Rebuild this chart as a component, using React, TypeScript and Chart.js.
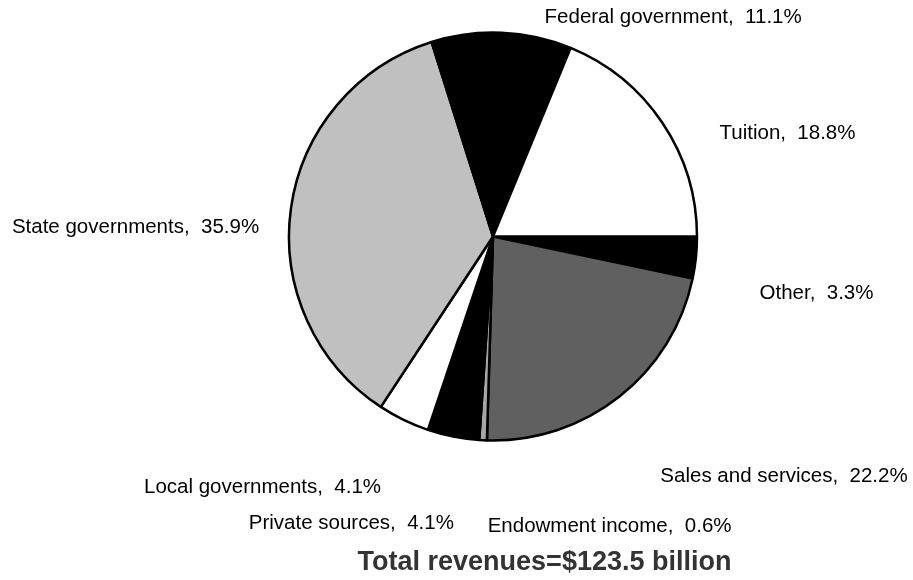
import React, { useEffect, useRef } from "react";
import { Chart, registerables } from "chart.js";

Chart.register(...registerables);

// ---- data ----
const categories = [
  "Other",
  "Sales and services",
  "Endowment income",
  "Private sources",
  "Local governments",
  "State governments",
  "Federal government",
  "Tuition",
];
const shares = [3.3, 22.2, 0.6, 4.1, 4.1, 35.9, 11.1, 18.8];
const totalLabel = "Total revenues=$123.5 billion";

// ---- styles ----
const sliceColors = [
  "#000000",
  "#606060",
  "#a6a6a6",
  "#000000",
  "#ffffff",
  "#c0c0c0",
  "#000000",
  "#ffffff",
];
// label centre offset from each slice's outer mid-point (px)
const labelOffsets: [number, number][] = [
  [120.6, 35.4],
  [164.8, 79.2],
  [126.5, 85.7],
  [-101.9, 86.4],
  [-141.1, 67.1],
  [-155.4, 18.5],
  [171.5, -15.7],
  [125, 10],
];
const titleOffset: [number, number] = [51.5, 326.5];
const FONT = "Arial, 'Liberation Sans', sans-serif";

const labelPlugin = {
  id: "sliceLabels",
  afterDatasetsDraw(chart: any) {
    const ctx = chart.ctx;
    const meta = chart.getDatasetMeta(0);
    ctx.save();
    ctx.font = `20.5px ${FONT}`;
    ctx.fillStyle = "#000000";
    ctx.textAlign = "center";
    ctx.textBaseline = "middle";
    let cx = 0;
    let cy = 0;
    meta.data.forEach((arc: any, i: number) => {
      const { x, y, startAngle, endAngle, outerRadius } = arc.getProps(
        ["x", "y", "startAngle", "endAngle", "outerRadius"],
        true
      );
      cx = x;
      cy = y;
      const mid = (startAngle + endAngle) / 2;
      const ax = x + Math.cos(mid) * outerRadius;
      const ay = y + Math.sin(mid) * outerRadius;
      const [dx, dy] = labelOffsets[i];
      ctx.fillText(
        `${categories[i]},  ${shares[i].toFixed(1)}%`,
        ax + dx,
        ay + dy
      );
    });
    ctx.font = `bold 27px ${FONT}`;
    ctx.fillStyle = "#333333";
    ctx.fillText(totalLabel, cx + titleOffset[0], cy + titleOffset[1]);
    ctx.restore();
  },
};

export default function App() {
  const ref = useRef<HTMLCanvasElement | null>(null);

  useEffect(() => {
    if (!ref.current) return;
    const chart = new Chart(ref.current, {
      type: "pie",
      data: {
        labels: categories,
        datasets: [
          {
            data: shares,
            backgroundColor: sliceColors,
            borderColor: "#000000",
            borderWidth: 2.5,
          },
        ],
      },
      options: {
        animation: false,
        responsive: false,
        rotation: 90,
        radius: 204,
        layout: { padding: { left: 283, right: 210, top: 26, bottom: 133 } },
        plugins: {
          legend: { display: false },
          tooltip: { enabled: false },
          title: { display: false },
        },
      },
      plugins: [labelPlugin],
    });
    return () => chart.destroy();
  }, []);

  return (
    <div
      style={{
        position: "fixed",
        left: 0,
        top: 0,
        width: 913,
        height: 580,
        background: "#ffffff",
      }}
    >
      <canvas ref={ref} width={913} height={580} style={{ display: "block" }} />
    </div>
  );
}
